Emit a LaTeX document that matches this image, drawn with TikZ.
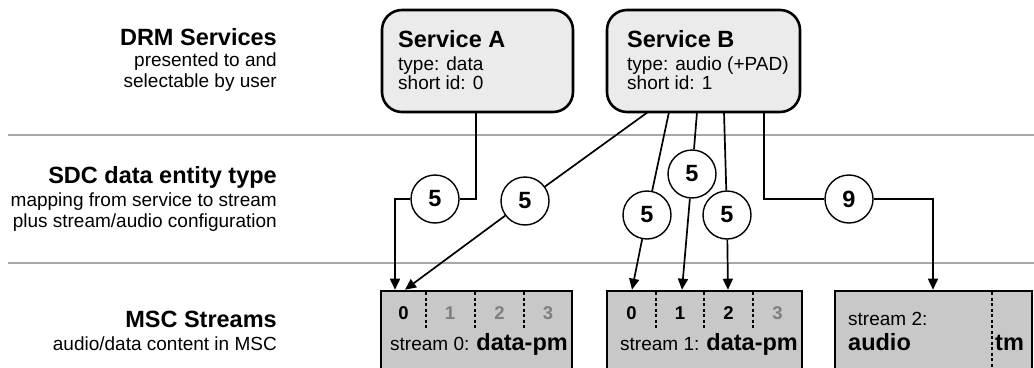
\documentclass[tikz,border=0pt]{standalone}
\usepackage{fontspec}
\setmainfont{Liberation Sans}
\usetikzlibrary{arrows.meta}
\definecolor{svcfill}{HTML}{EBEBEB}
\definecolor{strfill}{HTML}{C8C8C8}
\definecolor{sepgray}{HTML}{A8A8A8}
\definecolor{dimgray}{HTML}{7F7F7F}
\newcommand{\bigb}{\fontsize{23.5}{28}\selectfont\bfseries}
\newcommand{\reg}{\fontsize{19}{22}\selectfont}
\newcommand{\cellf}{\fontsize{18.5}{22}\selectfont\bfseries}
\tikzset{
  svcbox/.style={draw, line width=2.6pt, rounded corners=20pt, fill=svcfill, outer sep=0pt, inner sep=0pt},
  strbox/.style={draw, line width=2.6pt, fill=strfill, outer sep=0pt, inner sep=0pt},
  numc/.style={draw, circle, line width=1.4pt, fill=white, minimum size=48pt, inner sep=0pt, font=\bigb},
  conn/.style={line width=1.7pt},
  arr/.style={line width=1.7pt, -{Triangle[width=10pt,length=11pt]}},
  sep/.style={draw=sepgray, line width=2pt},
  divl/.style={line width=1.4pt, dash pattern=on 3pt off 2.5pt},
  lbl/.style={anchor=base east, inner sep=0pt},
  txt/.style={anchor=base west, inner sep=0pt},
  cellnum/.style={anchor=base, inner sep=0pt, font=\cellf},
}
\begin{document}
\begin{tikzpicture}[x=1pt,y=-1pt]
\clip (0,0) rectangle (1034,367);
\fill[white] (0,0) rectangle (1034,367);
% separators
\draw[sep] (8,135) -- (1034,135);
\draw[sep] (8,263) -- (1034,263);
% left labels
\node[lbl, font=\bigb] (l1) at (277,45) {DRM Services};
\node[lbl, font=\reg] (l2) at (277,66) {presented to and};
\node[lbl, font=\reg] (l3) at (277,87) {selectable by user};
\node[lbl, font=\bigb] (l4) at (277,183) {SDC data entity type};
\node[lbl, font=\reg] (l5) at (277,206) {mapping from service to stream};
\node[lbl, font=\reg] (l6) at (277,227) {plus stream/audio configuration};
\node[lbl, font=\bigb] (l7) at (277,327) {MSC Streams};
\node[lbl, font=\reg] (l8) at (277,350) {audio/data content in MSC};
% service boxes
\node[svcbox, minimum width=191pt, minimum height=102pt] (A) at (477.5,61) {};
\node[txt, font=\bigb] (At) at (398,47) {Service A};
\node[txt, font=\reg] (A1) at (398,70) {type: data};
\node[txt, font=\reg] (A2) at (398,89) {short id: 0};
\node[svcbox, minimum width=193pt, minimum height=102pt] (B) at (703.5,61) {};
\node[txt, font=\bigb] (Bt) at (627,47) {Service B};
\node[txt, font=\reg] (B1) at (627,70) {type: audio (+PAD)};
\node[txt, font=\reg] (B2) at (627,89) {short id: 1};
% stream boxes
\node[strbox, minimum width=191pt, minimum height=100pt] (S0) at (476.5,341) {};
\node[strbox, minimum width=195pt, minimum height=100pt] (S1) at (704.5,341) {};
\node[strbox, minimum width=197pt, minimum height=100pt] (S2) at (933.5,341) {};
% dividers
\draw[divl] (426,292) -- (426,328);
\draw[divl] (475,292) -- (475,328);
\draw[divl] (524,292) -- (524,328);
\draw[divl] (656,292) -- (656,328);
\draw[divl] (704,292) -- (704,328);
\draw[divl] (753,292) -- (753,328);
\draw[divl] (992,292) -- (992,367);
% cell numbers
\node[cellnum] (n00) at (403.5,319) {0};
\node[cellnum, text=dimgray] (n01) at (450,319) {1};
\node[cellnum, text=dimgray] (n02) at (499.5,319) {2};
\node[cellnum, text=dimgray] (n03) at (548,319) {3};
\node[cellnum] (n10) at (631.5,319) {0};
\node[cellnum] (n11) at (680,319) {1};
\node[cellnum] (n12) at (728.5,319) {2};
\node[cellnum, text=dimgray] (n13) at (777.5,319) {3};
% stream texts
\node[txt] (s0t) at (390,350) {\reg stream 0: \bigb data-pm};
\node[txt] (s1t) at (620,350) {\reg stream 1: \bigb data-pm};
\node[txt, font=\reg] (s2a) at (848,325) {stream 2:};
\node[txt, font=\bigb] (s2b) at (848,350) {audio};
\node[txt, font=\bigb] (s2c) at (995,350) {tm};
% circles
\node[numc] (C1) at (435,199) {5};
\node[numc] (C2) at (525,201) {5};
\node[numc] (C3) at (647,215) {5};
\node[numc] (C4) at (692,174) {5};
\node[numc] (C5) at (727,215) {5};
\node[numc] (C6) at (849,199) {9};
% connector endpoints
\coordinate (b1) at ([xshift=-55.5pt]B.south);
\coordinate (b2) at ([xshift=-34.5pt]B.south);
\coordinate (b3) at ([xshift=-6.5pt]B.south);
\coordinate (b4) at ([xshift=20.5pt]B.south);
\coordinate (b5) at ([xshift=60.5pt]B.south);
\coordinate (t1) at ([xshift=14pt,yshift=1.3pt]S0.north west);
\coordinate (t2) at ([xshift=24pt,yshift=1.3pt]S0.north west);
\coordinate (t3) at ([xshift=25pt,yshift=1.3pt]S1.north west);
\coordinate (t4) at ([xshift=75pt,yshift=1.3pt]S1.north west);
\coordinate (t5) at ([xshift=121pt,yshift=1.3pt]S1.north west);
\coordinate (t6) at ([xshift=98pt,yshift=1.3pt]S2.north west);
% connectors
\draw[conn] ([xshift=-1.5pt]A.south) |- (C1.east);
\draw[arr] (C1.west) -| (t1);
\draw[conn] (b1) -- (C2);
\draw[arr] (C2) -- (t2);
\draw[conn] (b2) -- (C3);
\draw[arr] (C3) -- (t3);
\draw[conn] (b3) -- (C4);
\draw[arr] (C4) -- (t4);
\draw[conn] (b4) -- (C5);
\draw[arr] (C5) -- (t5);
\draw[conn] (b5) |- (C6.west);
\draw[arr] (C6.east) -| (t6);
\end{tikzpicture}
\end{document}
